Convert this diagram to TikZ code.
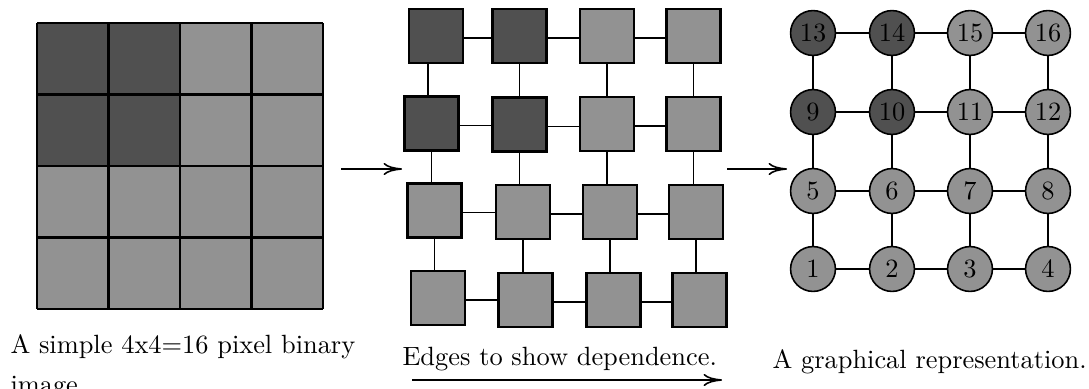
\documentclass[tikz,border=0pt]{standalone}
\usetikzlibrary{arrows.meta}
\definecolor{pixdark}{RGB}{80,80,80}
\definecolor{pixlight}{RGB}{146,146,146}
\tikzset{
  cellline/.style={line width=0.8pt},
  pixbox/.style={rectangle,draw,line width=0.8pt,minimum size=20.5pt,inner sep=0pt},
  vert/.style={circle,draw,line width=0.6pt,minimum size=17pt,inner sep=0pt},
  link/.style={line width=0.45pt},
  arr/.style={-{To[length=7pt,width=4.6pt]},line width=0.6pt},
  caption/.style={anchor=base west,inner sep=0pt,align=left}
}
\begin{document}
\begin{tikzpicture}[x=0.379pt,y=-0.379pt]
\useasboundingbox (0,0) rectangle (1089,389);

% ---- left: the 4x4 pixel image ----
\fill[pixlight] (37,23) rectangle (323,309);
\fill[pixdark] (37,23) rectangle (180,166);
\foreach \i in {0,...,4} {
  \draw[cellline] ({37+71.5*\i},23) -- ({37+71.5*\i},309);
  \draw[cellline] (37,{23+71.5*\i}) -- (323,{23+71.5*\i});
}

% ---- middle: pixels as boxes ----
\node[pixbox,fill=pixdark]  (m11) at (436,36) {};
\node[pixbox,fill=pixdark]  (m12) at (519.5,36) {};
\node[pixbox,fill=pixlight] (m13) at (607,36) {};
\node[pixbox,fill=pixlight] (m14) at (693.5,36) {};
\node[pixbox,fill=pixdark]  (m21) at (431.5,123.5) {};
\node[pixbox,fill=pixdark]  (m22) at (519.5,124.5) {};
\node[pixbox,fill=pixlight] (m23) at (607,124) {};
\node[pixbox,fill=pixlight] (m24) at (693.5,124) {};
\node[pixbox,fill=pixlight] (m31) at (434.5,210.5) {};
\node[pixbox,fill=pixlight] (m32) at (523,212) {};
\node[pixbox,fill=pixlight] (m33) at (610,212) {};
\node[pixbox,fill=pixlight] (m34) at (696,212) {};
\node[pixbox,fill=pixlight] (m41) at (438,298) {};
\node[pixbox,fill=pixlight] (m42) at (525.5,300) {};
\node[pixbox,fill=pixlight] (m43) at (613.5,300) {};
\node[pixbox,fill=pixlight] (m44) at (699.5,300) {};

% horizontal links
\foreach \r in {1,...,4} {
  \foreach \a/\b in {1/2,2/3,3/4} {
    \draw[link] ([yshift=-2*0.379pt]m\r\a.east) -- ([yshift=-2*0.379pt]m\r\a.east -| m\r\b.west);
  }
}
% vertical links
\draw[link] ([xshift=-8*0.379pt]m11.south) -- ([xshift=-8*0.379pt]m11.south |- m21.north);
\foreach \c in {2,3,4} {
  \draw[link] (m1\c.south) -- (m1\c.south |- m2\c.north);
}
\foreach \c in {1,...,4} {
  \draw[link] (m2\c.south) -- (m2\c.south |- m3\c.north);
  \draw[link] (m3\c.south) -- (m3\c.south |- m4\c.north);
}

% ---- right: the graph ----
\foreach \n/\x/\y/\col in {
   1/813/269/pixlight,  2/892/269/pixlight,  3/970/269/pixlight,  4/1048/269/pixlight,
   5/813/191/pixlight,  6/892/191/pixlight,  7/970/191/pixlight,  8/1048/191/pixlight,
   9/813/112/pixdark,  10/892/112/pixdark,  11/970/112/pixlight, 12/1048/112/pixlight,
  13/813/33/pixdark,   14/892/33/pixdark,   15/970/33/pixlight,  16/1048/33/pixlight} {
  \node[vert,fill=\col] (v\n) at (\x,\y) {\n};
}
\foreach \a/\b in {1/2,2/3,3/4,5/6,6/7,7/8,9/10,10/11,11/12,13/14,14/15,15/16,
                   1/5,5/9,9/13,2/6,6/10,10/14,3/7,7/11,11/15,4/8,8/12,12/16} {
  \draw[link] (v\a) -- (v\b);
}

% ---- arrows between the panels ----
\coordinate (a1s) at (341,169);
\coordinate (a1e) at (402,169);
\coordinate (a2s) at (727,169);
\coordinate (a2e) at (787,169);
\coordinate (a3s) at (412,380);
\coordinate (a3e) at (722,380);
\draw[arr] (a1s) -- (a1e);
\draw[arr] (a2s) -- (a2e);
\draw[arr] (a3s) -- (a3e);

% ---- captions ----
\node[caption] (c1) at (10,393) {A simple 4x4=16 pixel binary\\[3pt]image.};
\node[caption] (c2) at (402,365) {Edges to show dependence.};
\node[caption] (c3) at (772,368) {A graphical representation.};
\end{tikzpicture}
\end{document}
